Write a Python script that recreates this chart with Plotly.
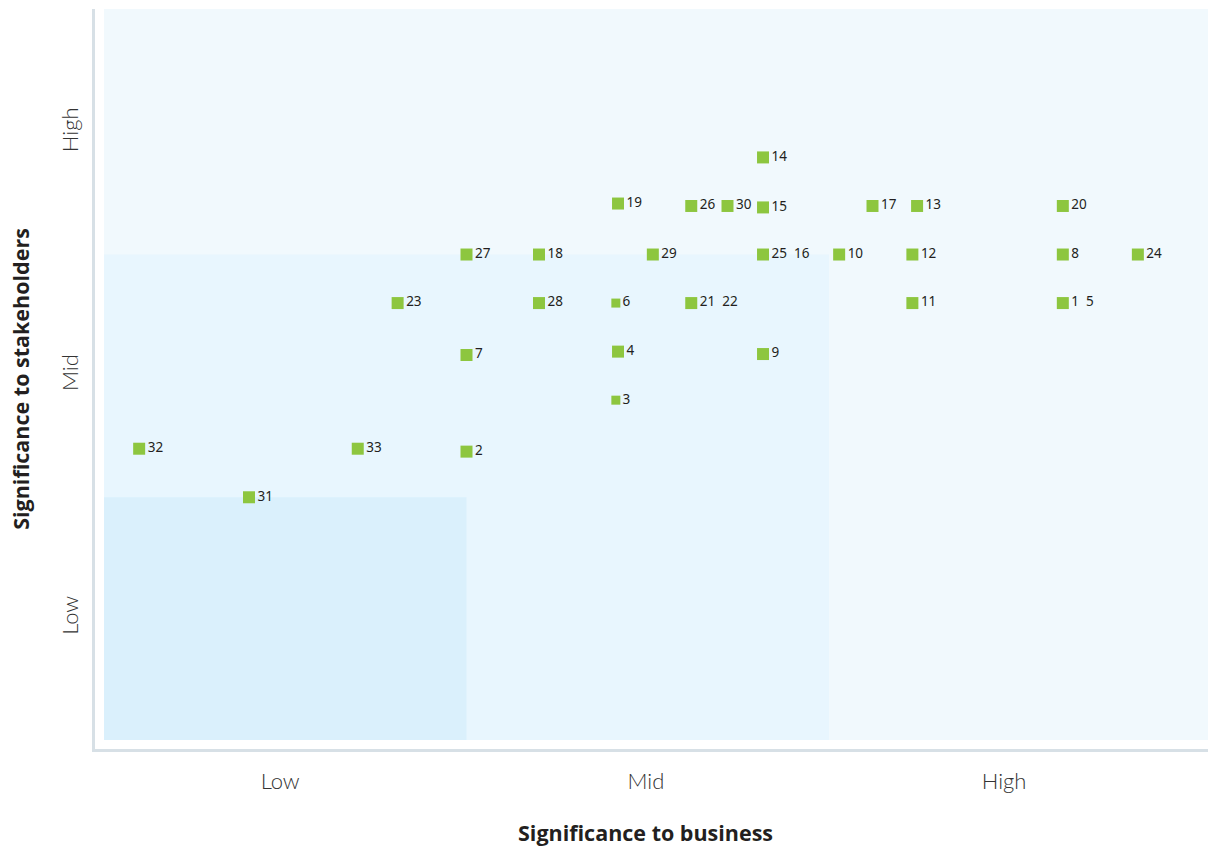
import plotly.graph_objects as go

# ---- data ----
labels = ["1\u00a0\u00a05", "2", "3", "4", "6", "7", "8", "9", "10", "11", "12", "13",
          "14", "15", "17", "18", "19", "20", "21\u00a0\u00a022", "23", "24",
          "25\u00a0\u00a016", "26", "27", "28", "29", "30", "31", "32", "33"]
business = [26.45, 10.0, 14.12, 14.18, 14.12, 10.0, 26.45, 18.18, 20.28, 22.3, 22.3, 22.43,
            18.18, 18.18, 21.2, 12.0, 14.18, 26.45, 16.2, 8.1, 28.52,
            18.18, 16.2, 10.0, 12.0, 15.14, 17.2, 4.0, 0.97, 7.0]
stakeholders = [9, 5.94, 7, 8, 9, 7.93, 10, 7.95, 10, 9, 10, 11,
                12, 10.97, 11, 10, 11.05, 11, 9, 9, 10,
                10, 11, 10, 9, 10, 11, 5, 6, 6]
marker_sizes = [12, 12, 9, 12, 9, 12, 12, 12, 12, 12, 12, 12,
                12, 12, 12, 12, 12, 12, 12, 12, 12,
                12, 12, 12, 12, 12, 12, 12, 12, 12]

tick_names = ["Low", "Mid", "High"]
x_tick_pos = [4.86, 14.95, 24.83]
y_tick_pos = [2.5, 7.5, 12.5]
x_title = "Significance to business"
y_title = "Significance to stakeholders"

# zone boundaries (data units)
zones = [  # (x1, y1, color)
    (40, 40, "#f1f9fd"),
    (20, 10, "#e8f6fe"),
    (10, 5, "#daf0fc"),
]

fig = go.Figure()

for x1, y1, col in zones:
    fig.add_shape(type="rect", x0=0, y0=0, x1=x1, y1=y1, xref="x", yref="y",
                  fillcolor=col, line=dict(width=0), layer="below")

fig.add_trace(go.Scatter(
    x=business, y=stakeholders, mode="markers+text",
    text=labels, textposition="middle right",
    textfont=dict(family="Noto Sans", size=13.5, color="#231f20"),
    marker=dict(symbol="square", size=marker_sizes, color="#8dc63f",
                opacity=1, line=dict(width=0)),
    hoverinfo="skip", showlegend=False, cliponaxis=False,
))

# x-axis title as an annotation centred at the reference position
fig.add_annotation(
    text=x_title, x=14.95, xref="x", y=0, yref="paper",
    xanchor="center", yanchor="top", yshift=-67, showarrow=False,
    font=dict(family="Open Sans", size=21.5, color="#231f20", weight="bold"),
)

axis_line = "#d7e0e6"
fig.update_xaxes(
    range=[-0.2483, 30.455], showgrid=False, zeroline=False,
    showline=True, linewidth=3, linecolor=axis_line,
    tickmode="array", tickvals=x_tick_pos, ticktext=tick_names, ticks="",
    tickfont=dict(family="Lato", size=22, color="#333333", weight=300),
    ticklabelstandoff=11,
)
fig.update_yaxes(
    range=[-0.185, 15.057], showgrid=False, zeroline=False,
    showline=True, linewidth=3, linecolor=axis_line,
    tickmode="array", tickvals=y_tick_pos, ticktext=tick_names, ticks="",
    tickangle=-90,
    tickfont=dict(family="Lato", size=22, color="#333333", weight=300),
    ticklabelstandoff=5,
    title=dict(text=y_title,
               font=dict(family="Open Sans", size=21.5, color="#231f20", weight="bold"),
               standoff=21),
)

fig.update_layout(
    width=1208, height=846,
    margin=dict(l=95, r=0, t=9, b=97, autoexpand=False),
    plot_bgcolor="white", paper_bgcolor="white",
)

fig.write_html(
    "out.html",
    config={"displayModeBar": False},
    post_script="document.body.style.margin='0';document.body.style.overflow='hidden';",
)
